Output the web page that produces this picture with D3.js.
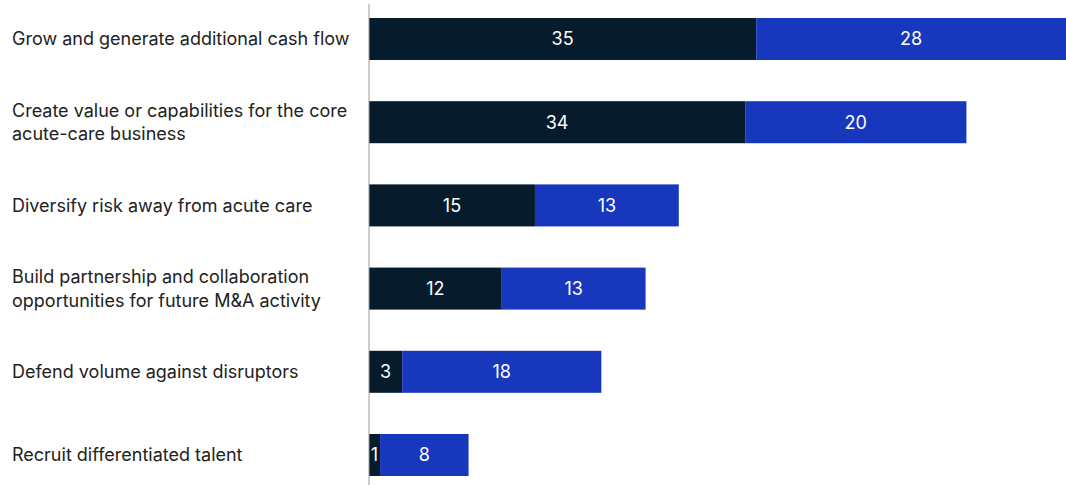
<!DOCTYPE html>
<html>
<head>
    <script src="https://cdnjs.cloudflare.com/ajax/libs/d3/7.8.5/d3.min.js"></script>
    <style>
        body { margin: 0; background: #fff; }
        svg text { font-family: Inter, "Noto Sans", sans-serif; }
    </style>
</head>
<body>
<div id="chart"></div>
<script>
    // Data
    const categories = [
        ['Grow and generate additional cash flow'],
        ['Create value or capabilities for the core', 'acute-care business'],
        ['Diversify risk away from acute care'],
        ['Build partnership and collaboration', 'opportunities for future M&A activity'],
        ['Defend volume against disruptors'],
        ['Recruit differentiated talent']
    ];
    const seriesA = [35, 34, 15, 12, 3, 1];
    const seriesB = [28, 20, 13, 13, 18, 8];

    const width = 1066;
    const height = 485;
    const axisX = 369;

    const svg = d3.select('#chart').append('svg')
                  .attr('width', width)
                  .attr('height', height);

    // Scales
    const x = d3.scaleLinear()
                .domain([0, 63])
                .range([axisX, 1066]);

    const y = d3.scaleBand()
                .domain(d3.range(categories.length))
                .range([-2.8, 496.8])
                .paddingInner(0.495)
                .paddingOuter(0.25);

    // Bars
    categories.forEach((c, i) => {
        const a = seriesA[i];
        const b = seriesB[i];

        svg.append('rect')
           .attr('x', x(0))
           .attr('y', y(i))
           .attr('width', x(a) - x(0))
           .attr('height', y.bandwidth())
           .style('fill', '#061c2c');

        svg.append('rect')
           .attr('x', x(a))
           .attr('y', y(i))
           .attr('width', x(a + b) - x(a))
           .attr('height', y.bandwidth())
           .style('fill', '#1737bc');

        const cy = y(i) + y.bandwidth() / 2;

        svg.append('text')
           .attr('x', (x(0) + x(a)) / 2)
           .attr('y', cy)
           .attr('dy', '0.36em')
           .attr('text-anchor', 'middle')
           .style('font-size', '18px')
           .style('fill', '#fff')
           .text(a);

        svg.append('text')
           .attr('x', (x(a) + x(a + b)) / 2)
           .attr('y', cy)
           .attr('dy', '0.36em')
           .attr('text-anchor', 'middle')
           .style('font-size', '18px')
           .style('fill', '#fff')
           .text(b);

        // Category label
        const lineH = 23.5;
        const t = svg.append('text')
                     .attr('x', 12)
                     .style('font-size', '18px')
                     .style('fill', '#222');
        c.forEach((line, j) => {
            t.append('tspan')
             .attr('x', 12)
             .attr('y', cy + (j - (c.length - 1) / 2) * lineH)
             .attr('dy', '0.36em')
             .text(line);
        });
    });

    // Axis line
    svg.append('line')
       .attr('x1', axisX)
       .attr('x2', axisX)
       .attr('y1', 4)
       .attr('y2', height)
       .attr('stroke', '#999')
       .attr('stroke-width', 1);
</script>
</body>
</html>
